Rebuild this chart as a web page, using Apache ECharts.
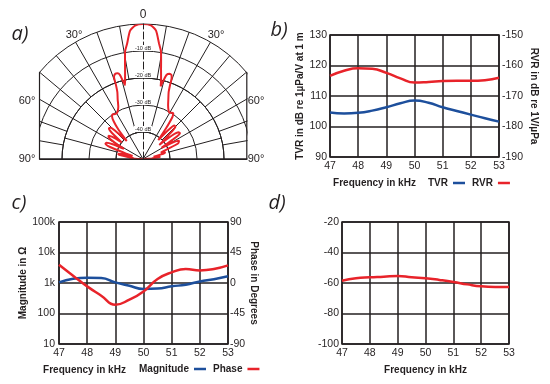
<!DOCTYPE html>
<html><head><meta charset="utf-8">
<script src="https://cdn.jsdelivr.net/npm/echarts@6/dist/echarts.min.js"></script>
<style>html,body{margin:0;padding:0;background:#fff}#c{width:550px;height:384px}</style>
</head><body><div id="c"></div>
<script>
// ---- data ----
const freq = [47, 47.5, 48, 48.5, 49, 49.5, 50, 50.5, 51, 51.5, 52, 52.5, 53];
const tvr = [104.6, 104.3, 104.5, 105.2, 106.3, 107.6, 108.5, 107.8, 106.3, 105.1, 103.9, 102.7, 101.6];
const rvr = [-163.4, -161.7, -160.9, -161.1, -162.4, -164.2, -165.6, -165.4, -165.1, -165.0, -165.0, -164.8, -164.0];
const magnitude = [1050, 1380, 1500, 1460, 1050, 810, 640, 660, 780, 880, 1120, 1330, 1660];
const phase = [27, 10.8, -5, -18.7, -32, -24.6, -12.4, 5.9, 15.6, 20.6, 18.6, 20.6, 26];
const levelD = [-58.5, -56.9, -56.3, -55.9, -55.4, -56.3, -56.9, -58.0, -59.3, -60.9, -62.2, -62.6, -62.6];
const patternAngle = [-90,-88,-86,-84,-82,-80,-78,-76,-74,-72,-70,-68,-66,-64,-62,-60,-58,-56,-54,-52,-50,-48,-46,-44,-42,-40,-38,-36,-34,-32,-30,-28,
  -25.3,-23,-21,-20,-19.5,-18,-16.5,-15.3,-14.5,-13.7,-12.8,-11.4,-10.3,-9.4,-7.9,-5.8,-3.4,0,
  3.4,5.8,7.9,9.4,10.3,11.4,12.8,13.7,14.6,15.7,17.3,18.8,19.5,20,21,23,25,28,30,32,33.5,35,37,39,41,43,45,47,49,51,53,55,57,59,61,63,66,68,70,72,74,76,78,80,82,84,86,88,90];
const patternDb = [-50,-47,-45,-46.5,-44,-41,-40.5,-42.5,-46,-43,-37,-35,-35.2,-37.5,-42,-38,-35,-34.6,-36,-40,-35,-33,-33.3,-37,-41,-36,-32.5,-30.5,-30,-30.4,-30.5,-30,
  -28.6,-26,-23.5,-20.5,-17.8,-16.8,-16.9,-17.8,-20,-21.8,-20,-16.4,-12.7,-9.5,-7,-2.3,-0.5,0,
  -0.4,-2.2,-6.8,-9.4,-12.5,-16.2,-19.8,-22.3,-20,-17.6,-16.9,-17.2,-18.2,-20.5,-23.5,-26,-28,-29.8,-30.2,-29.8,-29.7,-31,-36,-41,-36,-33,-33,-37,-42,-36,-33.5,-33.3,-37,-42,-37,-35,-35.7,-40,-43,-42,-41.5,-43,-46,-45,-43.5,-44.5,-47,-46,-50];
const magTickLabels = {10: '10', 100: '100', 1000: '1k', 10000: '10k', 100000: '100k'};
const angleLabels = ['0', '30°', '60°', '90°'];
const panelLabels = ['a)', 'b)', 'c)', 'd)'];

// ---- styling ----
const INK = '#231f20', BLUE = '#1d4f9c', RED = '#e8232a';
const FONT = '"Liberation Sans", Arial, sans-serif';
const zip = (xs, ys) => xs.map((x, i) => [x, ys[i]]);
const C = [143, 159];

function xAx(gi, pad) {
  return {
    gridIndex: gi, type: 'value', min: 47, max: 53, interval: 1,
    axisLine: {show: false}, axisTick: {show: false},
    axisLabel: {color: INK, fontSize: 10.5, fontFamily: FONT, margin: 4},
    splitLine: {show: true, lineStyle: {color: INK, width: 1.5}},
    name: 'Frequency in kHz', nameLocation: 'middle', nameGap: 21,
    nameTextStyle: {color: INK, fontWeight: 'bold', fontSize: 10, fontFamily: FONT, padding: [0, pad, 0, 0]}
  };
}
function yAx(gi, o) {
  return Object.assign({
    gridIndex: gi, type: 'value',
    axisLine: {show: false}, axisTick: {show: false},
    axisLabel: {color: INK, fontSize: 10.5, fontFamily: FONT, margin: 3},
    splitLine: {show: true, lineStyle: {color: INK, width: 1.5}},
    nameLocation: 'middle',
    nameTextStyle: {color: INK, fontWeight: 'bold', fontSize: 10, fontFamily: FONT}
  }, o);
}
function zeroHidden(min, max, step) {
  const arr = [];
  for (let v = min; v <= max + 1e-9; v += step) arr.push(Math.abs(v) < 1e-9 ? 'rgba(0,0,0,0)' : INK);
  return arr;
}
function gridAngle(pi, step) {
  return {polarIndex: pi, type: 'value', min: -90, max: 90, interval: step, startAngle: 180, endAngle: 0, clockwise: true,
    axisLine: {show: false}, axisTick: {show: false}, axisLabel: {show: false},
    splitLine: {show: true, lineStyle: {color: zeroHidden(-90, 90, step), width: 1}}};
}
function gridRadius(pi, min, max) {
  return {polarIndex: pi, type: 'value', min: min, max: max, interval: 10,
    axisLine: {show: false}, axisTick: {show: false}, axisLabel: {show: false},
    splitLine: {show: true, lineStyle: {color: INK, width: 1}}};
}
function txt(text, x, y, font) {
  return {type: 'text', x: x, y: y, z: 60, style: {text: text, fill: INK, font: font, align: 'center', verticalAlign: 'middle'}};
}

const chart = echarts.init(document.getElementById('c'), null, {renderer: 'canvas'});
const lineS = (name, color, xi, yi, data) => ({
  name: name, type: 'line', xAxisIndex: xi, yAxisIndex: yi, data: data, color: color,
  smooth: true, showSymbol: false, symbol: 'none', lineStyle: {color: color, width: 2.5}
});
const ANG = '11px ' + FONT;
const LET = 'italic 20px "Open Sans", sans-serif';

chart.setOption({
  animation: false,
  backgroundColor: '#fff',
  grid: [
    {left: 330, top: 35, width: 169, height: 122, show: true, borderColor: INK, borderWidth: 1.5},
    {left: 59, top: 222, width: 169, height: 122, show: true, borderColor: INK, borderWidth: 1.5},
    {left: 342, top: 222, width: 167, height: 122, show: true, borderColor: INK, borderWidth: 1.5}
  ],
  xAxis: [xAx(0, 80), xAx(1, 118), xAx(2, 0)],
  yAxis: [
    yAx(0, {min: 90, max: 130, interval: 10, name: 'TVR in dB re 1µPa/V at 1 m', nameRotate: 90, nameGap: 24}),
    yAx(0, {position: 'right', min: -190, max: -150, interval: 10, splitLine: {show: false},
      name: 'RVR in dB re 1V/µPa', nameRotate: -90, nameGap: 30}),
    yAx(1, {type: 'log', logBase: 10, min: 10, max: 100000, name: 'Magnitude in Ω', nameRotate: 90, nameGap: 26,
      axisLabel: {color: INK, fontSize: 10.5, fontFamily: FONT, margin: 4, formatter: v => magTickLabels[Math.round(v)] || ''}}),
    yAx(1, {position: 'right', min: -90, max: 90, interval: 45, splitLine: {show: false},
      name: 'Phase in Degrees', nameRotate: -90, nameGap: 20, axisLabel: {color: INK, fontSize: 10.5, fontFamily: FONT, margin: 2}}),
    yAx(2, {min: -100, max: -20, interval: 20})
  ],
  polar: [
    {center: C, radius: [81, 135]},
    {center: C, radius: [27, 81]},
    {center: C, radius: [0, 27]},
    {center: C, radius: [0, 135]}
  ],
  angleAxis: [
    gridAngle(0, 10), gridAngle(1, 15), gridAngle(2, 30),
    {polarIndex: 3, type: 'value', min: 0, max: 360, startAngle: 90, clockwise: true, show: false}
  ],
  radiusAxis: [
    gridRadius(0, -20, 0), gridRadius(1, -40, -20), gridRadius(2, -50, -40),
    {polarIndex: 3, type: 'value', min: -50, max: 0, interval: 10, z: 5,
      axisLine: {show: true, lineStyle: {color: INK, width: 1, type: [7, 3]}},
      axisTick: {show: false}, splitLine: {show: false},
      axisLabel: {show: true, color: INK, fontSize: 5.5, fontFamily: FONT, margin: 0, align: 'center', verticalAlign: 'bottom',
        backgroundColor: '#fff', padding: [0, 1, 0, 1],
        formatter: v => (v === 0 || v === -50) ? '' : v + ' dB'}}
  ],
  legend: [
    {data: ['TVR', 'RVR'], left: 423, top: 173, align: 'right', icon: 'rect', itemWidth: 12, itemHeight: 2.5, itemGap: 7,
      textStyle: {color: INK, fontWeight: 'bold', fontSize: 10, fontFamily: FONT}},
    {data: ['Magnitude', 'Phase'], left: 134, top: 359, align: 'right', icon: 'rect', itemWidth: 12, itemHeight: 2.5, itemGap: 7,
      textStyle: {color: INK, fontWeight: 'bold', fontSize: 10, fontFamily: FONT}}
  ],
  series: [
    lineS('TVR', BLUE, 0, 0, zip(freq, tvr)),
    lineS('RVR', RED, 0, 1, zip(freq, rvr)),
    lineS('Magnitude', BLUE, 1, 2, zip(freq, magnitude)),
    lineS('Phase', RED, 1, 3, zip(freq, phase)),
    lineS('Level', RED, 2, 4, zip(freq, levelD)),
    {name: 'Pattern', type: 'line', coordinateSystem: 'polar', polarIndex: 3, showSymbol: false, symbol: 'none', smooth: 0.2,
      lineStyle: {color: RED, width: 2}, color: RED,
      data: patternAngle.map((a, i) => [patternDb[i], a < 0 ? a + 360 : a])}
  ],
  graphic: [
    {type: 'rect', z: 50, shape: {x: 0, y: 0, width: 39, height: 160.5}, style: {fill: '#fff'}},
    {type: 'rect', z: 50, shape: {x: 247.5, y: 0, width: 34, height: 160.5}, style: {fill: '#fff'}},
    {type: 'line', z: 55, shape: {x1: 39.5, y1: 72.3, x2: 39.5, y2: 159.5}, style: {stroke: INK, lineWidth: 1.2}},
    {type: 'line', z: 55, shape: {x1: 246.8, y1: 72.3, x2: 246.8, y2: 159.5}, style: {stroke: INK, lineWidth: 1.2}},
    {type: 'line', z: 55, shape: {x1: 39.5, y1: 159.2, x2: 246.8, y2: 159.2}, style: {stroke: INK, lineWidth: 1.5}},
    txt(angleLabels[0], 143, 15, '12px ' + FONT),
    txt(angleLabels[1], 74, 35, ANG), txt(angleLabels[1], 216, 35, ANG),
    txt(angleLabels[2], 27, 101, ANG), txt(angleLabels[2], 256, 101, ANG),
    txt(angleLabels[3], 27, 159, ANG), txt(angleLabels[3], 256, 159, ANG),
    txt(panelLabels[0], 20, 34, LET), txt(panelLabels[1], 279, 30, LET),
    txt(panelLabels[2], 19, 203, LET), txt(panelLabels[3], 277, 203, LET)
  ]
});
</script></body></html>
